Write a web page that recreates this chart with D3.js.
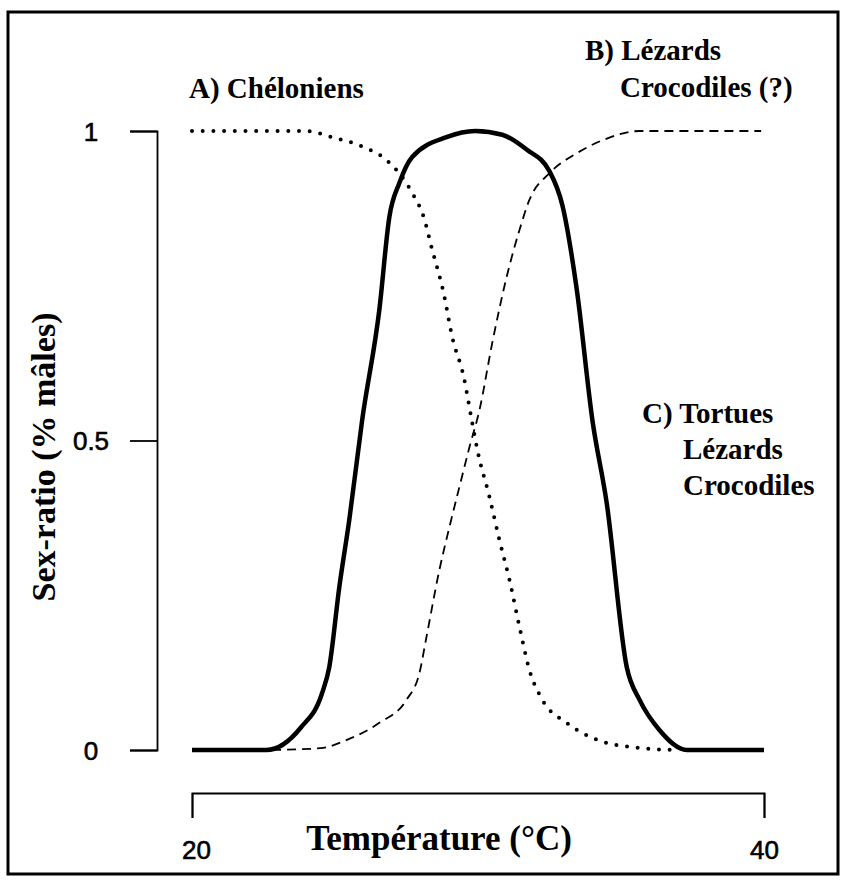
<!DOCTYPE html>
<html>
<head>
<meta charset="utf-8">
<script src="https://cdn.jsdelivr.net/npm/d3@7"></script>
<style>
  body { margin: 0; background: #fff; }
  svg { display: block; }
</style>
</head>
<body>
<div id="chart"></div>
<script>
// A) Chéloniens : dotted curve (1 -> 0)
var cheloniensT = [20, 24.0, 24.9, 26.0, 26.8, 27.7, 28.1, 28.4, 28.8, 29.1, 29.5, 29.8, 30.0, 30.4, 30.75, 31.1, 31.45, 31.8, 32.25, 33.1, 34.2, 35.7, 36.9];
var cheloniensV = [1, 1, 0.99, 0.974, 0.953, 0.90, 0.861, 0.808, 0.738, 0.667, 0.603, 0.528, 0.48, 0.409, 0.339, 0.275, 0.199, 0.129, 0.081, 0.044, 0.016, 0.003, 0];

// B) Lézards, Crocodiles (?) : dashed curve (0 -> 1)
var lezardsT = [22.8, 24.5, 25.4, 26.55, 27.5, 27.95, 28.2, 28.65, 29.0, 29.35, 29.7, 30.05, 30.5, 31.0, 31.45, 31.8, 32.5, 33.45, 34.35, 35.65, 39.9];
var lezardsV = [0, 0.003, 0.016, 0.044, 0.081, 0.124, 0.183, 0.291, 0.36, 0.425, 0.489, 0.549, 0.658, 0.764, 0.84, 0.889, 0.932, 0.964, 0.985, 1, 1];

// C) Tortues, Lézards, Crocodiles : solid bell curve
var tortuesT = [20, 22.6, 23.8, 24.55, 24.8, 25.15, 25.5, 25.95, 26.55, 26.9, 27.25, 27.7, 28.9, 29.9, 30.85, 31.7, 32.5, 32.95, 33.45, 34.0, 34.5, 35.2, 35.65, 36.35, 37.3, 40];
var tortuesV = [0, 0, 0.036, 0.092, 0.134, 0.263, 0.372, 0.533, 0.711, 0.861, 0.916, 0.958, 0.99, 1, 0.994, 0.97, 0.935, 0.88, 0.745, 0.533, 0.399, 0.134, 0.081, 0.032, 0, 0];

var xTicks = [20, 40];
var yTicks = [0, 0.5, 1];

var W = 845, H = 880;

var svg = d3.select("#chart")
    .append("svg")
    .attr("width", W)
    .attr("height", H);

// frame
svg.append("rect")
    .attr("x", 8).attr("y", 12)
    .attr("width", 830).attr("height", 862)
    .attr("fill", "none")
    .attr("stroke", "#000")
    .attr("stroke-width", 3);

var x = d3.scaleLinear().domain([20, 40]).range([192, 764]);
var y = d3.scaleLinear().domain([0, 1]).range([750, 131]);

var sans = "'Liberation Sans', Arial, sans-serif";

// Y axis (bracket shape)
var gy = svg.append("g")
    .attr("transform", "translate(157,0)")
    .call(d3.axisLeft(y).tickValues(yTicks).tickSize(27).tickSizeOuter(27)
        .tickFormat(function (d) { return d === 0.5 ? "0.5" : d; }));
gy.select(".domain").attr("stroke-width", 1.8);
gy.selectAll(".tick line").attr("stroke-width", 1.8);
gy.selectAll(".tick text")
    .attr("x", -66)
    .attr("dy", "0.36em")
    .attr("text-anchor", "middle")
    .style("font-family", sans)
    .style("font-size", "26px")
    .attr("fill", "#000")
    .attr("stroke", "#000")
    .attr("stroke-width", 0.6);

// X axis
var gx = svg.append("g")
    .attr("transform", "translate(0,793)")
    .call(d3.axisBottom(x).tickValues(xTicks).tickSize(25).tickSizeOuter(25));
gx.select(".domain").attr("stroke-width", 1.8);
gx.selectAll(".tick line").attr("stroke-width", 1.8);
gx.selectAll(".tick text")
    .attr("y", 66)
    .attr("dy", 0)
    .attr("dx", function (d) { return d === 20 ? 4 : 0; })
    .style("font-family", sans)
    .style("font-size", "26px")
    .attr("fill", "#000")
    .attr("stroke", "#000")
    .attr("stroke-width", 0.6);

function lineOf(ts, vs) {
    return d3.line()
        .x(function (d, i) { return x(ts[i]); })
        .y(function (d, i) { return y(vs[i]); })
        .curve(d3.curveMonotoneX)(ts);
}

// dashed curve
svg.append("path")
    .attr("d", lineOf(lezardsT, lezardsV))
    .attr("fill", "none")
    .attr("stroke", "#000")
    .attr("stroke-width", 1.8)
    .attr("stroke-dasharray", "9 6");

// dotted curve
svg.append("path")
    .attr("d", lineOf(cheloniensT, cheloniensV))
    .attr("fill", "none")
    .attr("stroke", "#000")
    .attr("stroke-width", 4)
    .attr("stroke-linecap", "round")
    .attr("stroke-dasharray", "0 10.7");

// solid curve
svg.append("path")
    .attr("d", lineOf(tortuesT, tortuesV))
    .attr("fill", "none")
    .attr("stroke", "#000")
    .attr("stroke-width", 4.5)
    .attr("stroke-linejoin", "round");

// labels
var serif = "'Liberation Serif', 'Times New Roman', serif";
var labels = [
    { t: "A) Chéloniens", x: 189, y: 98 },
    { t: "B) Lézards", x: 585, y: 60 },
    { t: "Crocodiles (?)", x: 620, y: 97 },
    { t: "C) Tortues", x: 642, y: 423 },
    { t: "Lézards", x: 683, y: 459 },
    { t: "Crocodiles", x: 683, y: 495 }
];
svg.selectAll("text.lab")
    .data(labels)
    .enter()
    .append("text")
    .attr("class", "lab")
    .attr("x", function (d) { return d.x; })
    .attr("y", function (d) { return d.y; })
    .style("font-family", serif)
    .style("font-weight", "bold")
    .style("font-size", "29px")
    .text(function (d) { return d.t; });

// axis titles
svg.append("text")
    .attr("x", 439).attr("y", 850)
    .attr("text-anchor", "middle")
    .style("font-family", serif)
    .style("font-weight", "bold")
    .style("font-size", "35px")
    .text("Température (°C)");

svg.append("text")
    .attr("transform", "translate(55,457)rotate(-90)")
    .attr("text-anchor", "middle")
    .style("font-family", serif)
    .style("font-weight", "bold")
    .style("font-size", "34px")
    .text("Sex-ratio (% mâles)");
</script>
</body>
</html>
